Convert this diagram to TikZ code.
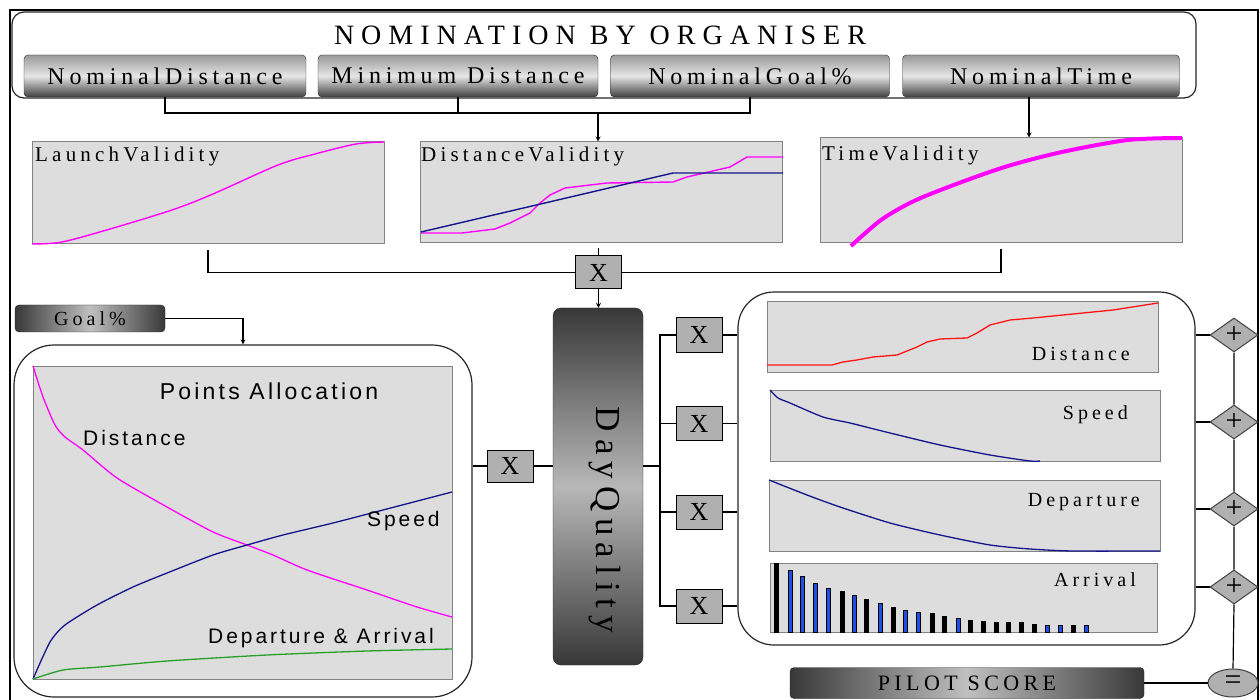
\documentclass[tikz,border=0pt]{standalone}
\usepackage{fontspec}
\usepackage{tikz}
\usetikzlibrary{positioning}
\usetikzlibrary{shapes.geometric, arrows}
\setmainfont{Liberation Serif}
\newfontfamily\spaced[LetterSpace=20]{Liberation Serif}
\newfontfamily\widespaced[LetterSpace=25]{Liberation Serif}
\newfontfamily\sansspaced[LetterSpace=14]{Liberation Sans}
\newfontfamily\plainserif{Liberation Serif}
\definecolor{chartbg}{RGB}{221,221,221}
\definecolor{chartedge}{RGB}{130,130,130}
\definecolor{xgray}{RGB}{176,176,176}
\definecolor{vmagenta}{RGB}{255,0,255}
\definecolor{vnavy}{RGB}{20,20,140}
\definecolor{vgreen}{RGB}{40,160,40}
\definecolor{vred}{RGB}{255,20,20}
\definecolor{barblue}{RGB}{30,80,230}
\tikzstyle{wire} = [line width=1.2pt, draw=black]
\tikzstyle{arrow} = [wire,->,>=stealth]
\tikzstyle{group} = [rectangle, draw=black!85, line width=1.2pt, inner sep=0pt]
\tikzstyle{chart} = [rectangle, draw=chartedge, fill=chartbg, line width=1pt, inner sep=0pt]
\tikzstyle{button} = [rectangle, rounded corners=4pt,
minimum height=42pt, inner sep=0pt,
draw=black!85, top color=black!40, bottom color=black!75, middle color=black!10,
font=\spaced\fontsize{24}{26}\selectfont]
\tikzstyle{hbutton} = [rectangle, rounded corners=4pt, inner sep=0pt,
draw=black!85, left color=black!78, right color=black!78, middle color=black!25]
\tikzstyle{mult} = [rectangle, draw=black, fill=xgray, line width=1pt,
minimum width=46pt, minimum height=33pt, inner sep=0pt,
font=\plainserif\fontsize{26}{26}\selectfont]
\tikzstyle{plus} = [diamond, draw=black!75, fill=xgray, line width=1pt,
minimum width=48pt, minimum height=34pt, inner sep=0pt,
font=\plainserif\fontsize{30}{30}\selectfont]
\tikzstyle{chartlabel} = [inner sep=0pt, font=\spaced\fontsize{21}{23}\selectfont]
\tikzstyle{pointslabel} = [inner sep=0pt, font=\sansspaced\fontsize{21}{23}\selectfont]

\begin{document}
\begin{tikzpicture}[x=1pt, y=-1pt]
\fill[white] (0,0) rectangle (1260,700);
\useasboundingbox (0,0) rectangle (1260,700);
\draw[wire] (10,700) -- (10,10) -- (1258,10) -- (1258,700); % outer frame

% nomination by organiser
\node[group, rounded corners=12pt, minimum width=1184, minimum height=86] (nomination) at (604,55) {};
\node[inner sep=0pt, font=\widespaced\fontsize{28}{30}\selectfont] (nomtitle) at (600,35) {NOMINATION BY ORGANISER};
\node[button, minimum width=282] (nomdist) at (165,76) {NominalDistance};
\node[button, minimum width=280] (mindist) at (458,76) {Minimum Distance};
\node[button, minimum width=279] (nomgoal) at (750,76) {NominalGoal\%};
\node[button, minimum width=277] (nomtime) at (1041,76) {NominalTime};

% validity charts
\node[chart, minimum width=352, minimum height=102] (launchval) at (208,193) {};
\node[chart, minimum width=362, minimum height=101] (distval) at (601.5,192.5) {};
\node[chart, minimum width=362, minimum height=105] (timeval) at (1001,190.5) {};
\node[chartlabel, anchor=west] (launchlbl) at (35,156) {LaunchValidity};
\node[chartlabel, anchor=west] (distlbl) at (421,156) {DistanceValidity};
\node[chartlabel, anchor=west] (timelbl) at (822,155) {TimeValidity};
\draw[vmagenta, line width=1.4pt] plot[smooth] coordinates {(32,244) (62,242) (110,229) (172,210) (213,194) (278,165) (315,154) (356,144) (384,142)};
\draw[vmagenta, line width=1.4pt] (421,233) -- (462,233) -- (495,229) -- (510,223) -- (530,213) -- (540,203) -- (550,195) -- (565,188) -- (607,183) -- (673,182) -- (687,177) -- (730,167) -- (747,157) -- (783,157);
\draw[vnavy, line width=1.4pt] (421,232) -- (673,173) -- (783,173);
\draw[vmagenta, line width=4pt] plot[smooth] coordinates {(851,246) (881,220) (914,201) (959,183) (1008,166) (1062,152) (1128,140) (1182,138)};

\node[mult] (xtop) at (598.5,272.5) {X};

% day quality
\node[rectangle, rounded corners=8pt, draw=black!85, minimum width=90, minimum height=357,
top color=black!78, bottom color=black!78, middle color=black!28] (dayq) at (598,486.5) {};
\node[rotate=-90, inner sep=0pt, font=\spaced\fontsize{35}{37}\selectfont] (dayqlbl) at (605,520) {DayQuality};

% points allocation
\node[hbutton, minimum width=150, minimum height=27, font=\spaced\fontsize{20}{22}\selectfont] (goal) at (90,318.5) {Goal\%};
\node[group, rounded corners=40pt, minimum width=458, minimum height=352] (pointsgrp) at (243,521) {};
\node[chart, minimum width=419, minimum height=313] (pointschart) at (242.5,522.5) {};
\draw[vmagenta, line width=1.3pt] plot[smooth, tension=0.4] coordinates {(33,366) (43,397) (55,425) (65,437) (83,450) (117,478) (167,507) (213,532) (247,545) (273,555) (307,570) (367,590) (417,607) (452,617)};
\draw[vnavy, line width=1.3pt] plot[smooth, tension=0.4] coordinates {(33,679) (50,642) (65,625) (97,605) (133,587) (167,573) (213,555) (247,545) (283,535) (333,523) (383,510) (452,492)};
\draw[vgreen, line width=1.3pt] plot[smooth, tension=0.4] coordinates {(33,679) (63,670) (100,667) (167,661) (267,655) (367,651) (452,649)};
\node[pointslabel, font=\sansspaced\fontsize{23}{25}\selectfont] (pointstitle) at (269,391) {Points Allocation};
\node[pointslabel, anchor=west] (ptsdist) at (83,438) {Distance};
\node[pointslabel, anchor=west] (ptsspeed) at (367,521) {Speed};
\node[pointslabel, anchor=west] (ptsdeparr) at (208,638) {Departure \& Arrival};
\node[mult, minimum height=32] (xpts) at (510,466) {X};

% score components
\node[mult, minimum height=34] (xd) at (699,335) {X};
\node[mult, minimum height=34] (xs) at (699,423.5) {X};
\node[mult, minimum height=34] (xdp) at (699,512) {X};
\node[mult, minimum height=34] (xa) at (699,606) {X};
\node[group, rounded corners=36pt, minimum width=457, minimum height=353] (rightgrp) at (966.5,468.5) {};
\node[chart, minimum width=391, minimum height=71] (distchart) at (962.5,337) {};
\node[chart, minimum width=390, minimum height=71] (speedchart) at (965,425.5) {};
\node[chart, minimum width=391, minimum height=71] (depchart) at (964.5,515.5) {};
\node[chart, minimum width=387, minimum height=69] (arrchart) at (963.5,597.5) {};
\draw[vred, line width=1.3pt] (767,365) -- (832,365) -- (843,362) -- (857,360) -- (873,357) -- (897,355) -- (917,347) -- (927,342) -- (940,339) -- (967,338) -- (977,333) -- (990,325) -- (1010,320) -- (1033,318) -- (1073,314) -- (1113,310) -- (1158,303);
\draw[vnavy, line width=1.3pt] plot[smooth, tension=0.4] coordinates {(770,390) (778,398) (790,403) (823,417) (850,423) (890,433) (940,445) (990,455) (1030,461) (1040,461)};
\draw[vnavy, line width=1.3pt] plot[smooth, tension=0.4] coordinates {(769,480) (807,495) (840,507) (890,523) (940,535) (990,545) (1030,549) (1073,551) (1160,551)};
\foreach \bx/\bt/\bc in {776/563/black, 790/570/barblue, 802/576/barblue, 815/583/barblue, 828/588/barblue,
  842/591/black, 854/595/barblue, 866/599/black, 880/603/barblue, 893/607/black, 905/610/barblue,
  918/612/barblue, 932/613/black, 944/616/black, 958/618/barblue, 970/620/black, 983/621/black,
  996/622/black, 1008/622/black, 1021/622/black, 1034/624/black, 1047/625/barblue, 1060/625/barblue,
  1073/625/black, 1086/625/barblue}
  \draw[fill=\bc, draw=black, line width=0.6pt] (\bx-2,632) rectangle (\bx+2,\bt);
\node[chartlabel, anchor=east, font=\spaced\fontsize{20}{22}\selectfont] (distcl) at (1130,354) {Distance};
\node[chartlabel, anchor=east, font=\spaced\fontsize{20}{22}\selectfont] (speedcl) at (1128,415) {Speed};
\node[chartlabel, anchor=east, font=\spaced\fontsize{20}{22}\selectfont] (depcl) at (1140,502) {Departure};
\node[chartlabel, anchor=east, font=\spaced\fontsize{20}{22}\selectfont] (arrcl) at (1136,580) {Arrival};

% summation
\node[plus] (pd) at (1234,335) {+};
\node[plus] (ps) at (1234,422) {+};
\node[plus] (pdp) at (1234,509) {+};
\node[plus] (pa) at (1234,587) {+};
\node[ellipse, draw=black!75, fill=xgray, line width=1pt, minimum width=50, minimum height=28, inner sep=0pt,
font=\plainserif\fontsize{30}{30}\selectfont] (eq) at (1233,683) {=};
\node[hbutton, minimum width=354, minimum height=31, font=\spaced\fontsize{22}{24}\selectfont] (pilot) at (967,683) {PILOT SCORE};

% connectors
\coordinate (nomjoin) at (598,113);
\draw[wire] (nomdist.south) |- (nomjoin) -| (nomgoal.south);
\draw[wire] (mindist.south) -- (mindist.south |- nomjoin);
\draw[arrow] (nomjoin) -- (nomjoin |- distval.north);
\draw[arrow] ([xshift=-12pt]nomtime.south) -- ([xshift=-12pt]nomtime.south |- timeval.north);
\draw[wire] ([yshift=-6pt]launchval.south) |- (xtop.west);
\draw[wire] (xtop.north) -- ++(0,-7);
\draw[wire] ([yshift=-6pt]timeval.south) |- (xtop.east);
\draw[arrow] (xtop.south) -- (xtop.south |- dayq.north);
\draw[arrow] (goal.east) -| (pointsgrp.north);
\draw[wire] (xpts.west -| pointsgrp.east) -- (xpts.west);
\draw[wire] (xpts.east) -- (xpts.east -| dayq.west);
\coordinate (fork) at (660,466);
\draw[wire] (xpts.east -| dayq.east) -- (fork);
\draw[wire] (xd.west) -| (fork) |- (xa.west);
\draw[wire] (fork |- xs.west) -- (xs.west);
\draw[wire] (fork |- xdp.west) -- (xdp.west);
\foreach \n in {xd,xs,xdp,xa}
  \draw[wire] (\n.east) -- (\n.east -| rightgrp.west);
\foreach \n in {pd,ps,pdp,pa}
  \draw[wire] (\n.west -| rightgrp.east) -- (\n.west);
\draw[wire] (pd.south) -- (ps.north) (ps.south) -- (pdp.north) (pdp.south) -- (pa.north) (pa.south) -- (eq.north);
\draw[wire] (pilot.east) -- (eq.west);
\end{tikzpicture}
\end{document}
